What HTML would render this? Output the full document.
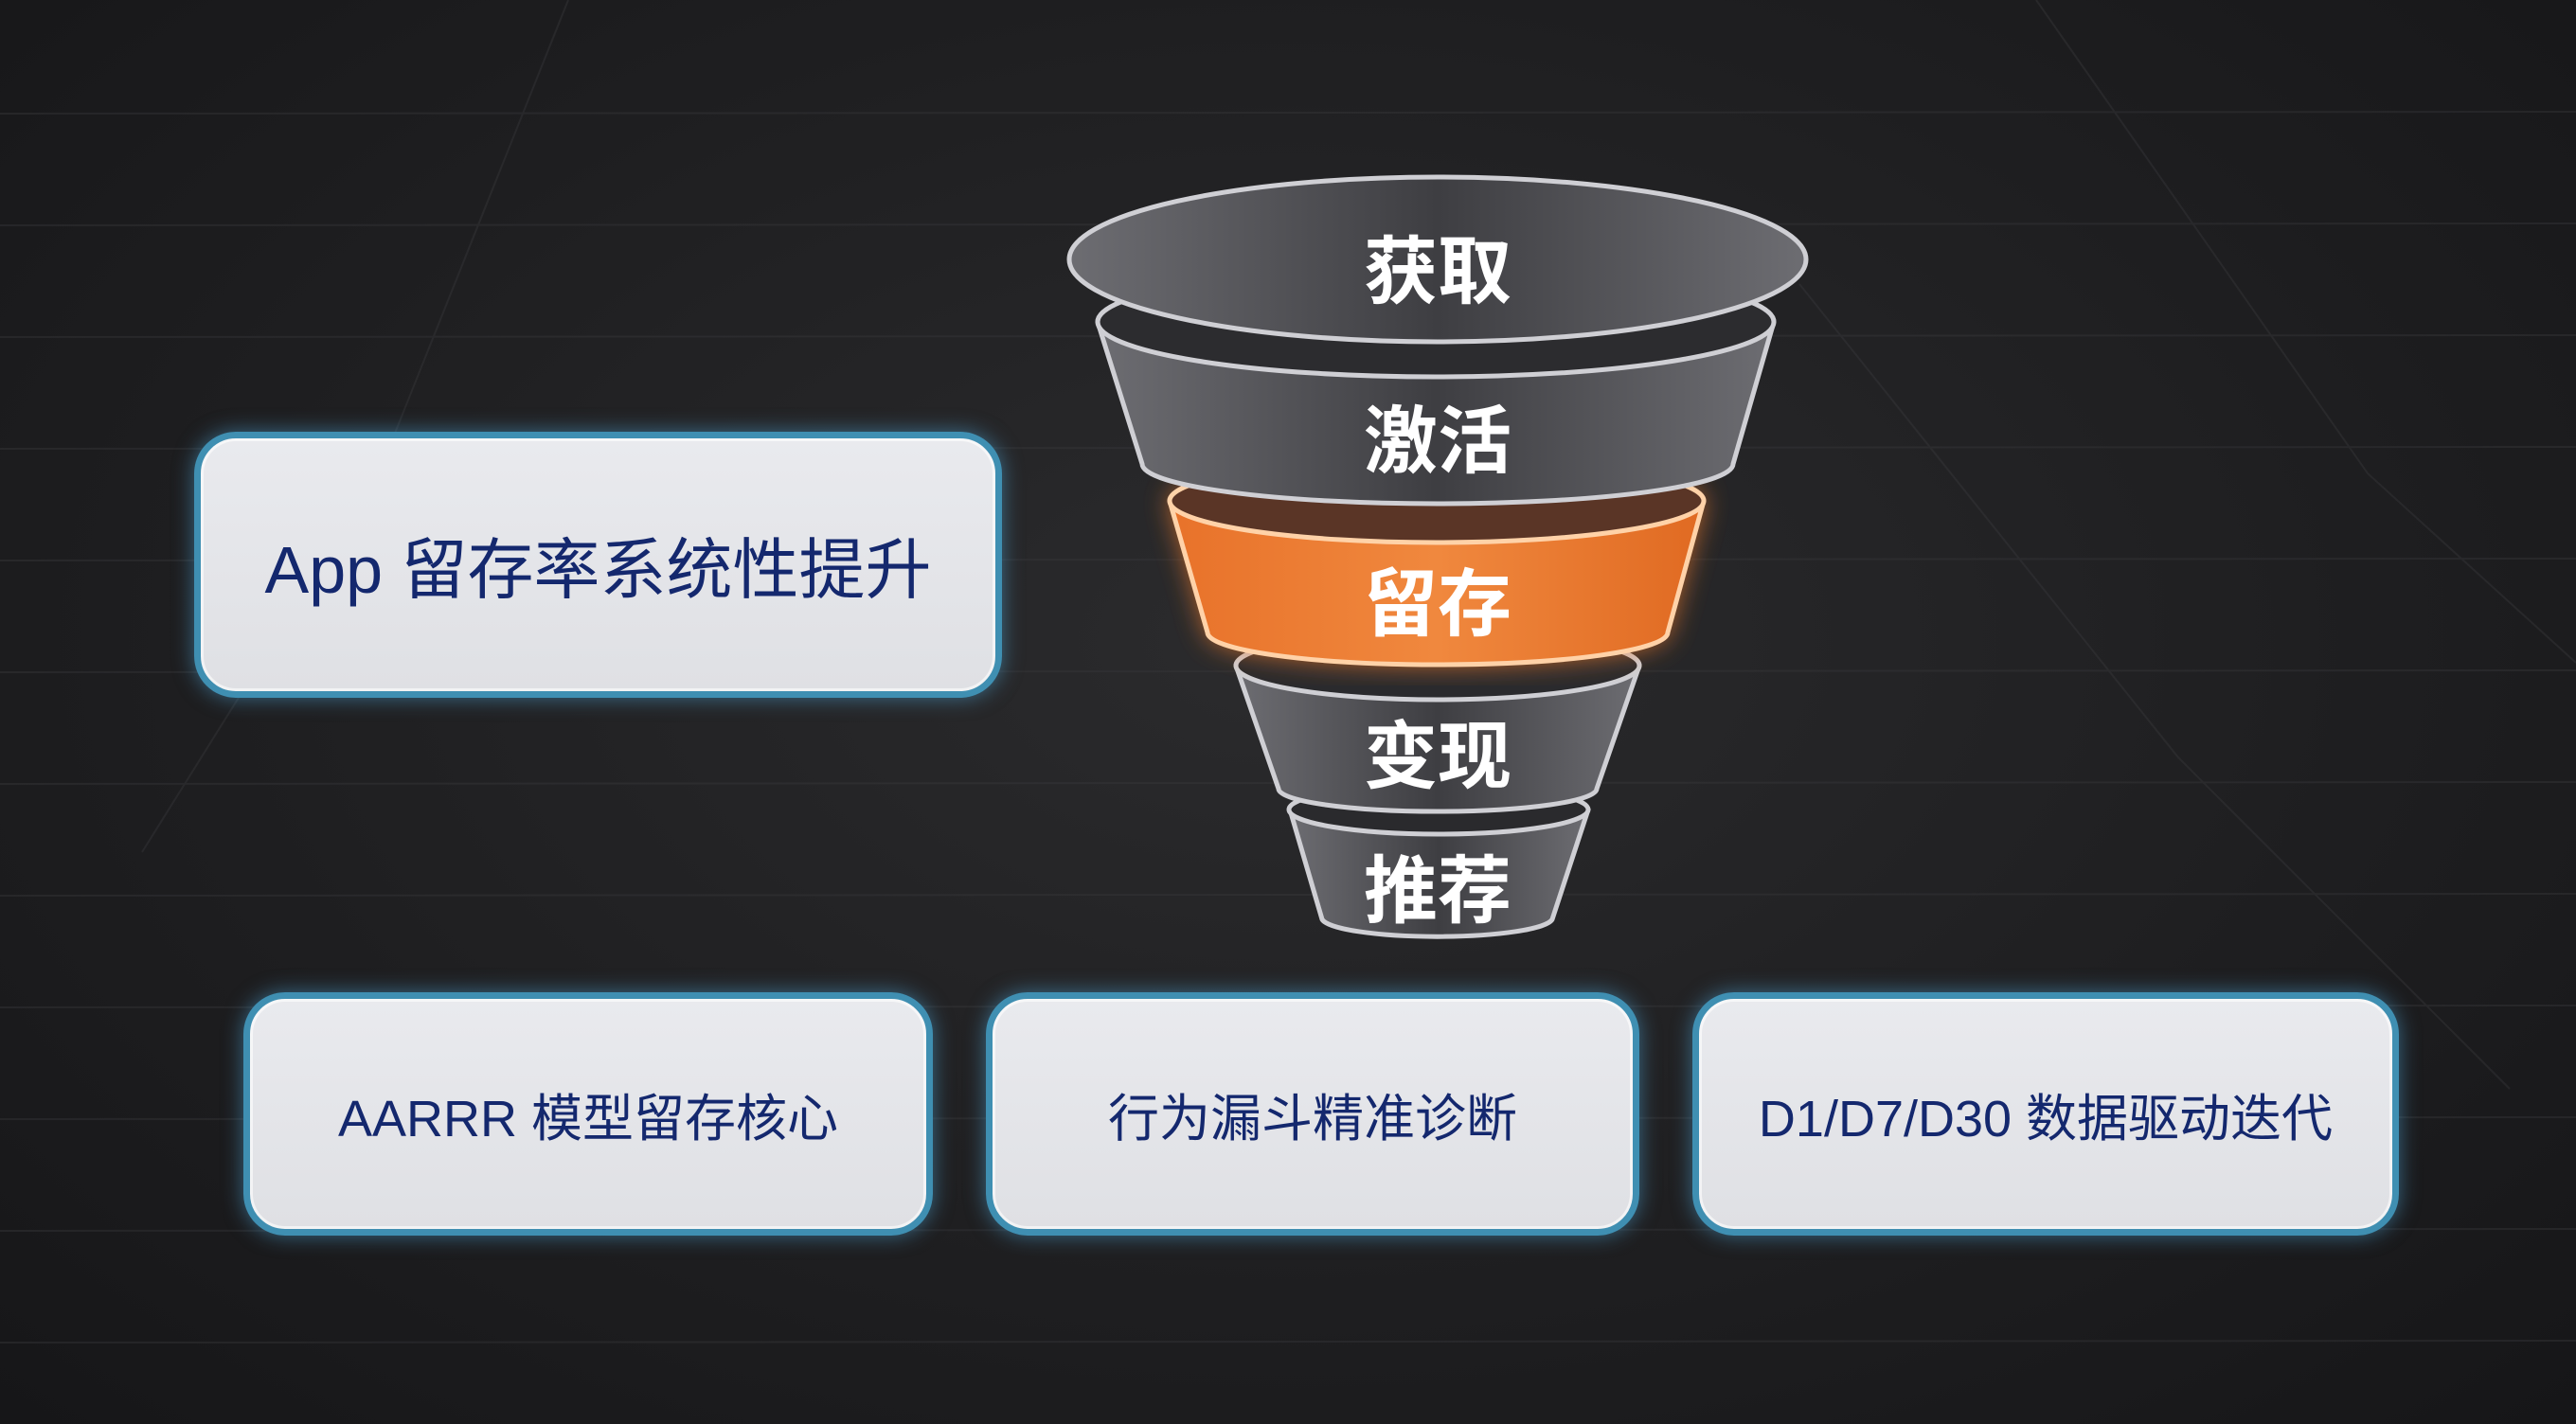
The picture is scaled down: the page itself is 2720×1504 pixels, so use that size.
<!DOCTYPE html>
<html><head><meta charset="utf-8"><style>
html,body{margin:0;padding:0}
body{width:2720px;height:1504px;position:relative;overflow:hidden;background:radial-gradient(ellipse at 50% 45%,#2b2b2d 0%,#1e1e20 60%,#161618 100%);font-family:"Liberation Sans","Noto Sans CJK SC",sans-serif}
.bx{position:absolute;box-sizing:border-box;border:7px solid #3f8fb2;border-radius:44px;background:linear-gradient(180deg,#e9eaee,#dfe0e4);box-shadow:0 0 22px rgba(80,170,220,.55),inset 0 0 0 3px rgba(255,255,255,.6);display:flex;align-items:center;justify-content:center;color:#14286e;white-space:nowrap}
svg{position:absolute;left:0;top:0}
</style></head><body>
<svg width="2720" height="1504">
<g stroke="#3a3a3d" stroke-width="2" opacity=".4">
<line x1="0" y1="120" x2="2720" y2="118"/><line x1="0" y1="238" x2="2720" y2="236"/><line x1="0" y1="356" x2="2720" y2="354"/><line x1="0" y1="474" x2="2720" y2="472"/><line x1="0" y1="592" x2="2720" y2="590"/><line x1="0" y1="710" x2="2720" y2="708"/><line x1="0" y1="828" x2="2720" y2="826"/><line x1="0" y1="946" x2="2720" y2="944"/><line x1="0" y1="1064" x2="2720" y2="1062"/><line x1="0" y1="1182" x2="2720" y2="1180"/><line x1="0" y1="1300" x2="2720" y2="1298"/><line x1="0" y1="1418" x2="2720" y2="1416"/>
<path d="M2150 0 L2500 500 L2720 700" fill="none"/><path d="M1900 300 L2300 800 L2650 1150" fill="none"/><path d="M600 0 L400 500 L150 900" fill="none"/>
</g>
<defs>
<linearGradient id="g" x1="0" x2="1"><stop offset="0" stop-color="#6d6d72"/><stop offset=".5" stop-color="#3e3e42"/><stop offset="1" stop-color="#6d6d72"/></linearGradient>
<linearGradient id="o" x1="0" x2="1"><stop offset="0" stop-color="#e8722a"/><stop offset=".5" stop-color="#f0883e"/><stop offset="1" stop-color="#e06a22"/></linearGradient>
<filter id="gl"><feGaussianBlur stdDeviation="14"/></filter>
</defs>
<g stroke="#cfcfd4" stroke-width="5">
<path d="M1362 855 L1396 971 A122 20 0 0 0 1639 971 L1677 855 A158 26 0 0 0 1362 855Z" fill="url(#g)"/>
<ellipse cx="1519" cy="855" rx="158" ry="26" fill="#2a2a2d"/>
<path d="M1305 703 L1350 833 A168 24 0 0 0 1686 833 L1731 703 A213 36 0 0 0 1305 703Z" fill="url(#g)"/>
<ellipse cx="1518" cy="703" rx="213" ry="36" fill="#2a2a2d"/>
<path d="M1235 529 L1275 668 A243 34 0 0 0 1761 668 L1799 529 A282 44 0 0 0 1235 529Z" fill="#f07a2a" stroke="none" filter="url(#gl)" opacity=".8"/>
<path d="M1235 529 L1275 668 A243 34 0 0 0 1761 668 L1799 529 A282 44 0 0 0 1235 529Z" fill="url(#o)" stroke="#ffd2a8"/>
<ellipse cx="1517" cy="529" rx="282" ry="44" fill="#5a3526" stroke="#ffd2a8"/>
<path d="M1159 340 L1206 490 A312 42 0 0 0 1830 490 L1873 340 A357 58 0 0 0 1159 340Z" fill="url(#g)"/>
<ellipse cx="1516" cy="340" rx="357" ry="58" fill="#2c2c2f"/>
<ellipse cx="1518" cy="274" rx="389" ry="87" fill="url(#g)"/>
</g>
<g fill="#fff" font-family="Liberation Sans,Noto Sans CJK SC,sans-serif" font-size="78" font-weight="bold" text-anchor="middle">
<text x="1518" y="314">获取</text><text x="1518" y="493">激活</text><text x="1518" y="665">留存</text><text x="1518" y="826">变现</text><text x="1518" y="968">推荐</text>
</g>
</svg>
<div class="bx" style="left:205px;top:456px;width:853px;height:281px;font-size:70px">App 留存率系统性提升</div>
<div class="bx" style="left:257px;top:1048px;width:728px;height:257px;font-size:54px">AARRR 模型留存核心</div>
<div class="bx" style="left:1041px;top:1048px;width:690px;height:257px;font-size:54px">行为漏斗精准诊断</div>
<div class="bx" style="left:1787px;top:1048px;width:746px;height:257px;font-size:54px">D1/D7/D30 数据驱动迭代</div>
</body></html>
